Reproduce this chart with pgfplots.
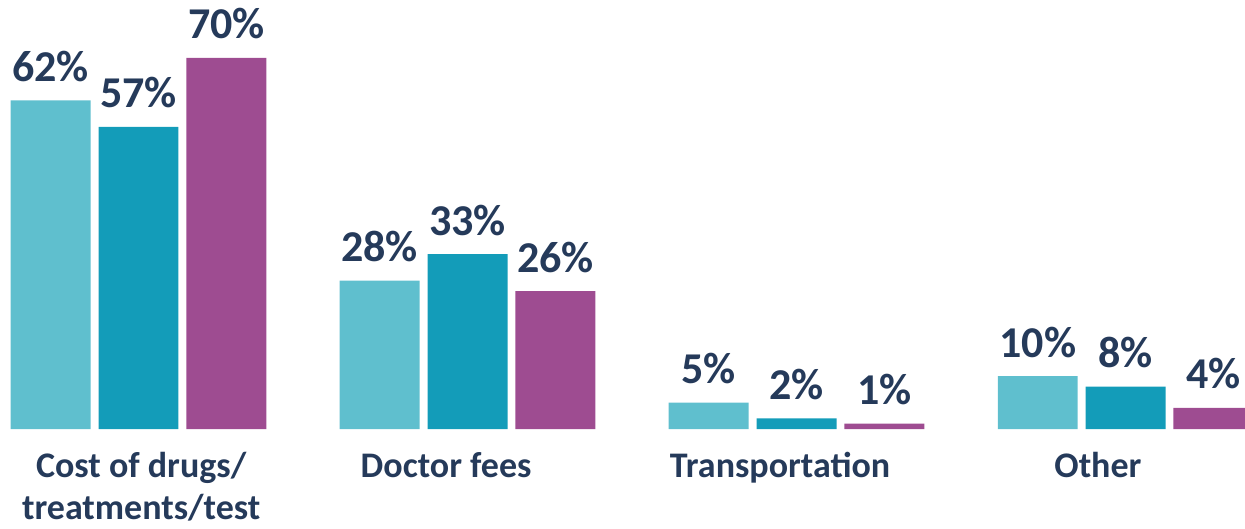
\documentclass[border=0pt]{standalone}
\usepackage{pgfplots}
\pgfplotsset{compat=1.18}
\usepackage{fontspec}
\setmainfont{Carlito}
\definecolor{cLight}{HTML}{5FBFCE}
\definecolor{cMid}{HTML}{139CB9}
\definecolor{cPurple}{HTML}{9E4C91}
\definecolor{navy}{HTML}{253A5A}
\begin{document}
\begin{tikzpicture}
\useasboundingbox (0,0) rectangle (622.47pt,264pt);
\begin{axis}[
  ybar,
  at={(0,0)}, anchor=south west,
  x=164.5pt, y=2.65pt,
  xmin=-0.421, xmax=3.363,
  ymin=-18.68, ymax=80.94,
  axis line style={draw=none},
  tick style={draw=none},
  ytick=\empty,
  xtick={0.008,0.935,1.950,2.916},
  xticklabels={{\begin{tabular}[t]{@{}c@{}}Cost of drugs/\\treatments/test\end{tabular}},{Doctor fees},{Transportation},{Other}},
  xticklabel style={font=\fontsize{18}{21}\selectfont\bfseries, text=navy,
    anchor=base, inner sep=0pt, yshift=29.5pt},
  bar width=0.243,
  nodes near coords={\pgfmathprintnumber{\pgfplotspointmeta}\%},
  every node near coord/.append style={font=\fontsize{22}{26}\selectfont\bfseries,
    text=navy, anchor=base, inner sep=0pt, yshift=9.5pt},
  /pgf/number format/assume math mode=true,
]
\addplot[fill=cLight, draw=none, bar shift=-0.267] coordinates {(0,62) (1,28) (2,5) (3,10)};
\addplot[fill=cMid, draw=none, bar shift=0] coordinates {(0,57) (1,33) (2,2) (3,8)};
\addplot[fill=cPurple, draw=none, bar shift=0.267] coordinates {(0,70) (1,26) (2,1) (3,4)};
\end{axis}
\end{tikzpicture}
\end{document}
